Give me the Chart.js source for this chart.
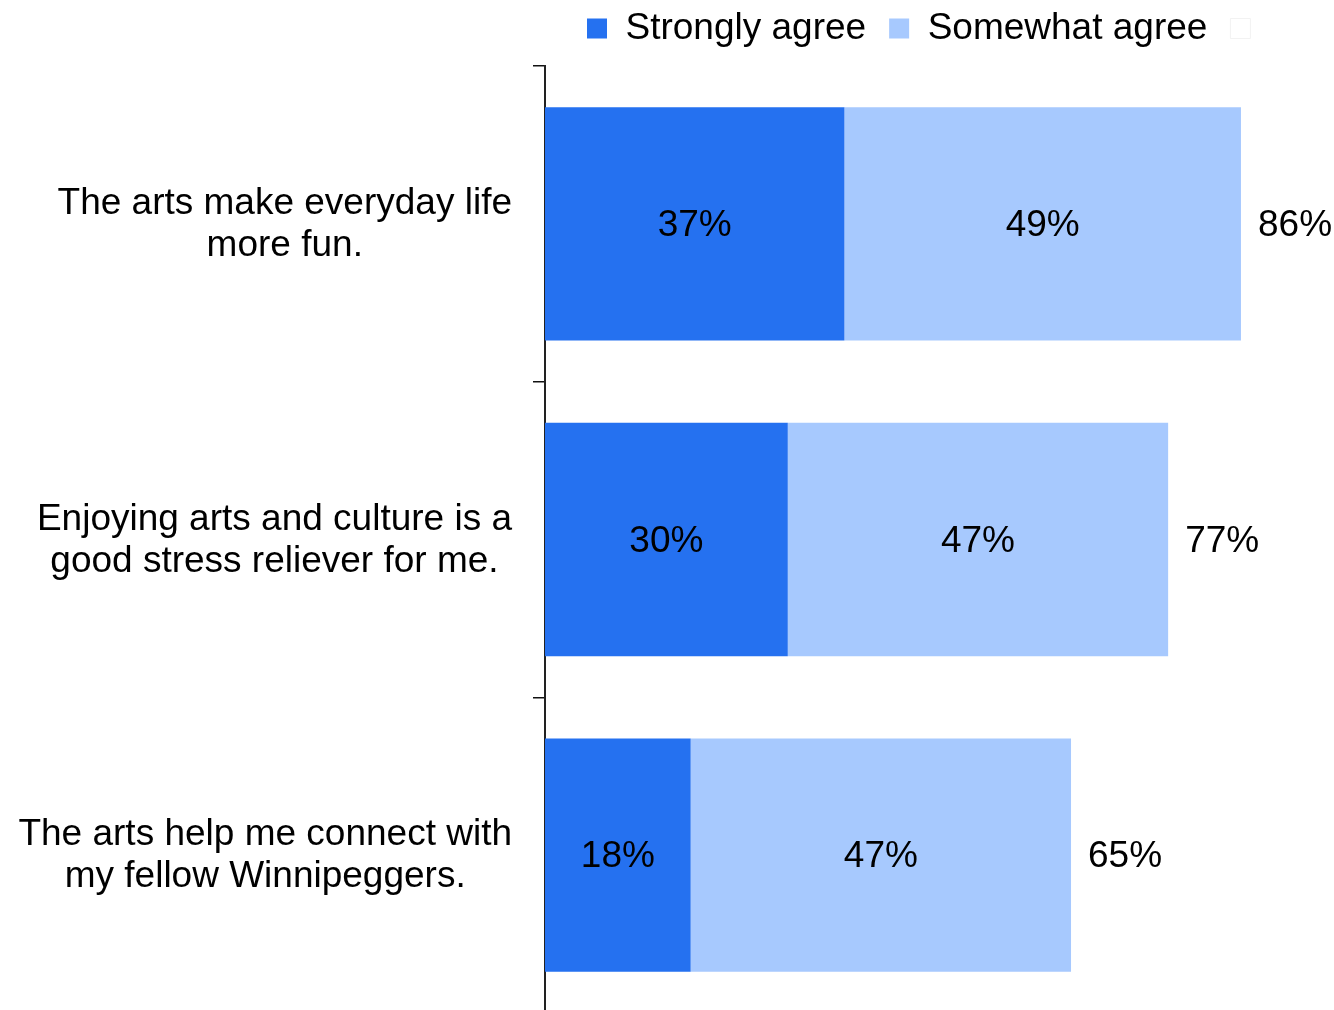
<!DOCTYPE html>
<html><head><meta charset="utf-8">
<script src="https://cdn.jsdelivr.net/npm/chart.js@4/dist/chart.umd.min.js"></script>
<style>html,body{margin:0;padding:0;background:#fff;overflow:hidden}#wrap{width:1334px;height:1013px;position:relative}</style>
</head><body><div id="wrap"><canvas id="c"></canvas></div>
<script>
const categories = [
  ["The arts make everyday life", "more fun."],
  ["Enjoying arts and culture is a", "good stress reliever for me."],
  ["The arts help me connect with", "my fellow Winnipeggers."]
];
const seriesNames = ["Strongly agree", "Somewhat agree"];
const stronglyAgree = [37, 30, 18];
const somewhatAgree = [49, 47, 47];
const totals = [86, 77, 65];

const FONT_FAMILY = "'Liberation Sans', Arial, sans-serif";
const FONT_SIZE = 37;
const FONT = FONT_SIZE + "px " + FONT_FAMILY;
const DARK = "#2571F0";
const LIGHT = "#A7C9FE";
const LEGEND_PAD = 23;

const labelPlugin = {
  id: 'customLabels',
  beforeInit(chart) {
    const L = chart.legend;
    const fit = L.fit;
    L.fit = function () { fit.call(L); this.height = 66; };
  },
  afterLayout(chart) {
    const L = chart.legend;
    const w = L.right - L.left;
    const h = L.bottom - L.top;
    L.left = 587 - LEGEND_PAD; L.right = L.left + w;
    L.top = 10 - LEGEND_PAD; L.bottom = L.top + h;
  },
  afterDatasetsDraw(chart) {
    const ctx = chart.ctx;
    ctx.save();
    ctx.font = FONT;
    ctx.fillStyle = "#000";
    ctx.textBaseline = "middle";
    chart.data.datasets.forEach((ds, di) => {
      const meta = chart.getDatasetMeta(di);
      meta.data.forEach((bar, i) => {
        const p = bar.getProps(['x', 'base', 'y'], true);
        ctx.textAlign = "center";
        ctx.fillText(ds.data[i] + "%", (p.x + p.base) / 2, p.y + 2);
        if (di === chart.data.datasets.length - 1) {
          ctx.textAlign = "left";
          ctx.fillText(totals[i] + "%", p.x + 17, p.y + 2);
        }
      });
    });
    // category labels: block right-aligned, lines centered inside block
    const ys = chart.scales.y;
    ctx.textAlign = "center";
    categories.forEach((lines, i) => {
      const cy = ys.getPixelForValue(i);
      const w = Math.max(...lines.map(l => ctx.measureText(l).width));
      const cx = ys.right - 33 - w / 2;
      lines.forEach((l, j) => ctx.fillText(l, cx, cy + 1 + (j - (lines.length - 1) / 2) * 42));
    });
    ctx.restore();
  }
};

new Chart(document.getElementById('c'), {
  type: 'bar',
  data: {
    labels: categories,
    datasets: [
      { label: seriesNames[0], data: stronglyAgree, backgroundColor: DARK, borderWidth: 0, categoryPercentage: 1, barPercentage: 0.739 },
      { label: seriesNames[1], data: somewhatAgree, backgroundColor: LIGHT, borderWidth: 0, categoryPercentage: 1, barPercentage: 0.739 }
    ]
  },
  options: {
    indexAxis: 'y',
    responsive: true,
    maintainAspectRatio: false,
    animation: false,
    layout: { padding: { left: 0, right: 4, top: 0, bottom: 0 } },
    scales: {
      x: { stacked: true, display: false, min: 0, max: 97 },
      y: {
        stacked: true,
        afterFit(scale) { scale.width = 545; },
        grid: { display: true, drawOnChartArea: false, drawTicks: true, tickLength: 12, offset: true, color: '#111', lineWidth: 1.5 },
        border: { display: true, color: '#222', width: 2 },
        ticks: { display: false }
      }
    },
    plugins: {
      tooltip: { enabled: false },
      legend: {
        position: 'top',
        align: 'start',
        labels: {
          font: { family: FONT_FAMILY, size: FONT_SIZE },
          color: '#000',
          boxWidth: 20,
          boxHeight: 20,
          padding: LEGEND_PAD,
          generateLabels(chart) {
            const items = Chart.defaults.plugins.legend.labels.generateLabels(chart);
            items.push({ text: '', fillStyle: '#ffffff', strokeStyle: '#f2f2f2', lineWidth: 1, hidden: false, datasetIndex: 2 });
            return items;
          }
        }
      }
    }
  },
  plugins: [labelPlugin]
});
</script>
</body></html>
